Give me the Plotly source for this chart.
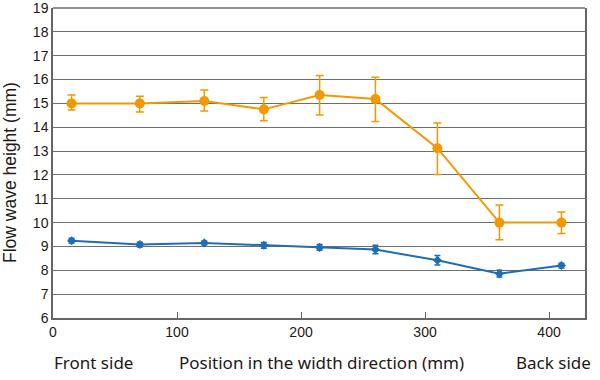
import plotly.graph_objects as go

positions = [15, 70, 122, 170, 215, 260, 310, 360, 410]
orange_vals = [15.0, 15.0, 15.1, 14.75, 15.35, 15.18, 13.12, 10.0, 10.0]
orange_err_plus = [0.35, 0.3, 0.46, 0.5, 0.82, 0.92, 1.06, 0.74, 0.44]
orange_err_minus = [0.28, 0.36, 0.42, 0.48, 0.84, 0.94, 1.1, 0.72, 0.46]
blue_vals = [9.24, 9.08, 9.15, 9.05, 8.96, 8.87, 8.42, 7.86, 8.2]
blue_err = [0.1, 0.1, 0.08, 0.12, 0.12, 0.18, 0.2, 0.14, 0.1]
y_ticks = list(range(6, 20))
x_ticks = [0, 100, 200, 300, 400]
bottom_labels = ["Front side", "Position in the width direction (mm)", "Back side"]
bottom_label_x = [93, 321, 553]
y_title = "Flow wave height (mm)"

ORANGE = "#F39800"
BLUE = "#1E6DB5"
L, R, T, B = 53, 15, 8, 62
W, H = 600, 380
PW, PH = W - L - R, H - T - B

fig = go.Figure()
fig.add_trace(go.Scatter(
    x=positions, y=orange_vals, mode="lines+markers",
    line=dict(color=ORANGE, width=2),
    marker=dict(color=ORANGE, size=10, symbol="circle"),
    error_y=dict(type="data", array=orange_err_plus, arrayminus=orange_err_minus,
                 color=ORANGE, thickness=1.5, width=4),
    showlegend=False))
fig.add_trace(go.Scatter(
    x=positions, y=blue_vals, mode="lines+markers",
    line=dict(color=BLUE, width=2),
    marker=dict(color=BLUE, size=7, symbol="diamond"),
    error_y=dict(type="data", array=blue_err, color=BLUE, thickness=1.5, width=3),
    showlegend=False))

for txt, px in zip(bottom_labels, bottom_label_x):
    fig.add_annotation(text=txt, x=(px - L) / PW, y=(T + PH - 362) / PH, xref="paper", yref="paper",
                       xanchor="center", yanchor="middle", showarrow=False,
                       font=dict(family="Noto Sans", size=17, color="#231815"))
fig.add_annotation(text=y_title, x=(10 - L) / PW, y=(T + PH - 173) / PH, xref="paper", yref="paper",
                   xanchor="center", yanchor="middle", showarrow=False, textangle=-90,
                   font=dict(family="Liberation Sans", size=17.5, color="#231815"))

fig.update_layout(
    width=W, height=H,
    margin=dict(l=L, r=R, t=T, b=B, autoexpand=False),
    paper_bgcolor="white", plot_bgcolor="white",
    font=dict(family="Liberation Sans", size=14, color="#231815"),
    xaxis=dict(range=[0, 429], tickvals=x_ticks, ticks="inside", ticklen=6,
               tickcolor="#666", showgrid=False, zeroline=False, automargin=False,
               showline=True, linecolor="#666", linewidth=1.5, mirror=False,
               ticklabeloverflow="allow",
               tickfont=dict(family="Liberation Sans", size=14)),
    yaxis=dict(range=[6, 19], tickvals=y_ticks, showgrid=True, gridcolor="#6e6e6e",
               gridwidth=1.3, zeroline=False, showline=True, linecolor="#666",
               linewidth=1.5, ticks="", automargin=False, mirror=True,
               ticklabeloverflow="allow",
               tickfont=dict(family="Liberation Sans", size=14)),
)
fig.add_shape(type="line", xref="paper", yref="paper", x0=0, x1=1, y0=1, y1=1,
              line=dict(color="#6e6e6e", width=1.3))

fig.write_html("out.html", config={"displayModeBar": False},
               post_script="document.body.style.margin='0';document.body.style.padding='0';")
